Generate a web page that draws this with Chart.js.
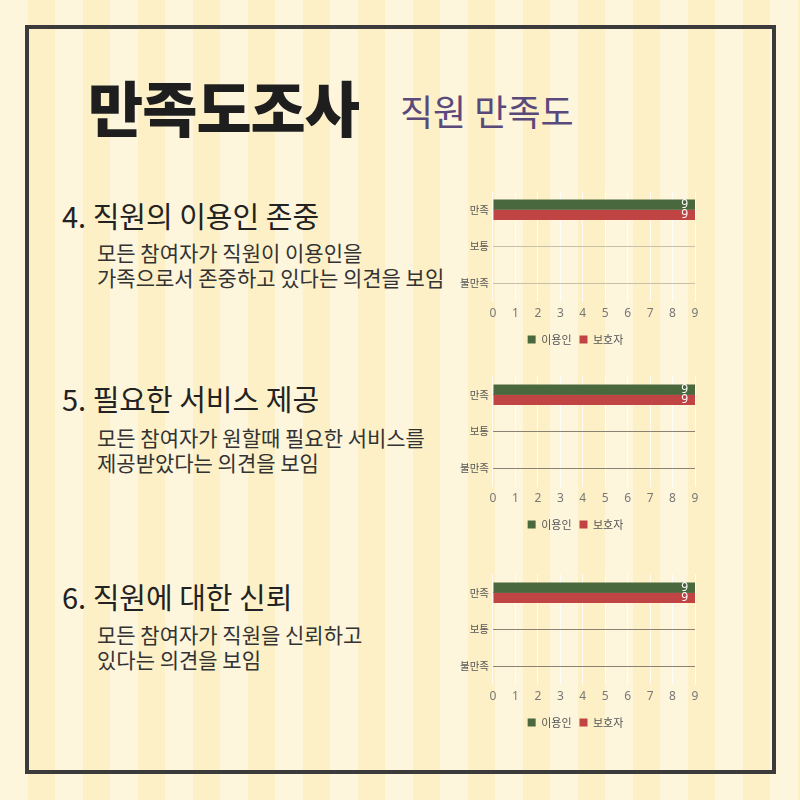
<!DOCTYPE html>
<html>
<head>
<meta charset="utf-8">
<script src="https://cdn.jsdelivr.net/npm/chart.js@4.4.1/dist/chart.umd.min.js"></script>
<style>
  html, body { margin: 0; padding: 0; }
  body {
    width: 800px; height: 800px; position: relative; overflow: hidden;
    background: repeating-linear-gradient(90deg, #fdf5dc 0px, #fdf5dc 27.5px, #fdf0c7 27.5px, #fdf0c7 55px);
    font-family: "Noto Sans CJK KR", "Noto Sans", sans-serif;
    color: #222;
  }
  .frame { position: absolute; left: 25px; top: 25px; width: 743px; height: 741px; border: 4px solid #3b3b3b; }
  .title { position: absolute; left: 88px; top: 76px; font-size: 60px; font-weight: 900; letter-spacing: -1px; color: #1e1e1e; line-height: 1; }
  .subtitle { position: absolute; left: 400px; top: 92px; font-size: 36px; color: #5a4a7c; line-height: 1; }
  .head { position: absolute; left: 62px; font-size: 29px; color: #222; line-height: 1; }
  .desc { position: absolute; left: 97px; font-size: 21px; color: #333; line-height: 25px; }
  .box { position: absolute; left: 448px; width: 262px; height: 174px; }
</style>
</head>
<body>
<div class="frame"></div>
<div class="title">만족도조사</div>
<div class="subtitle">직원 만족도</div>

<div class="head" style="top:201px">4. 직원의 이용인 존중</div>
<div class="desc" style="top:240px">모든 참여자가 직원이 이용인을<br>가족으로서 존중하고 있다는 의견을 보임</div>
<div class="box" style="top:181px"><canvas id="c4"></canvas></div>

<div class="head" style="top:384px">5. 필요한 서비스 제공</div>
<div class="desc" style="top:425px">모든 참여자가 원할때 필요한 서비스를<br>제공받았다는 의견을 보임</div>
<div class="box" style="top:366px"><canvas id="c5"></canvas></div>

<div class="head" style="top:582px">6. 직원에 대한 신뢰</div>
<div class="desc" style="top:622px">모든 참여자가 직원을 신뢰하고<br>있다는 의견을 보임</div>
<div class="box" style="top:564px"><canvas id="c6"></canvas></div>

<script>
// categories and series
var categories = ["만족", "보통", "불만족"];
var seriesNames = ["이용인", "보호자"];
var seriesColors = ["#4a683e", "#c04444"];
var xTickMax = 9;

// question 4
var q4User = [9, 0, 0];
var q4Guardian = [9, 0, 0];
// question 5
var q5User = [9, 0, 0];
var q5Guardian = [9, 0, 0];
// question 6
var q6User = [9, 0, 0];
var q6Guardian = [9, 0, 0];

// draw value labels at the end of each bar
var valueLabels = {
    id: "valueLabels",
    afterDatasetsDraw: function(chart) {
        var ctx = chart.ctx;
        ctx.save();
        ctx.fillStyle = "#ffffff";
        ctx.font = "12px 'Noto Sans', sans-serif";
        ctx.textAlign = "right";
        ctx.textBaseline = "middle";
        chart.data.datasets.forEach(function(ds, i) {
            chart.getDatasetMeta(i).data.forEach(function(bar, j) {
                if (ds.data[j] > 0) ctx.fillText(ds.data[j], bar.x - 7, bar.y);
            });
        });
        ctx.restore();
    }
};

function makeChart(id, user, guardian, gridColor) {
    var ctx = document.getElementById(id).getContext("2d");
    new Chart(ctx, {
        type: "bar",
        data: {
            labels: categories,
            datasets: [
                { label: seriesNames[0], data: user, backgroundColor: seriesColors[0] },
                { label: seriesNames[1], data: guardian, backgroundColor: seriesColors[1] }
            ]
        },
        options: {
            indexAxis: "y",
            responsive: true,
            maintainAspectRatio: false,
            animation: false,
            categoryPercentage: 0.56,
            barPercentage: 1,
            layout: { padding: { left: 8, right: 15, top: 0, bottom: 0 } },
            scales: {
                x: {
                    min: 0, max: xTickMax,
                    ticks: { stepSize: 1, padding: 5, color: "#777", font: { size: 12, family: "'Noto Sans', sans-serif" } },
                    grid: { color: "rgba(255,255,255,0.8)", drawTicks: false },
                    border: { display: false }
                },
                y: {
                    ticks: { color: "#555", font: { size: 10.5, family: "'Noto Sans CJK KR', sans-serif" }, padding: 4 },
                    grid: { offset: false, color: gridColor, drawTicks: false },
                    border: { display: false }
                }
            },
            plugins: {
                legend: {
                    position: "bottom",
                    labels: { boxWidth: 8, boxHeight: 8, color: "#555", font: { size: 11, family: "'Noto Sans CJK KR', sans-serif" }, padding: 8 }
                },
                tooltip: { enabled: false }
            }
        },
        plugins: [valueLabels]
    });
}

makeChart("c4", q4User, q4Guardian, "#c8c0a6");
makeChart("c5", q5User, q5Guardian, "#8a8273");
makeChart("c6", q6User, q6Guardian, "#8a8273");
</script>
</body>
</html>
